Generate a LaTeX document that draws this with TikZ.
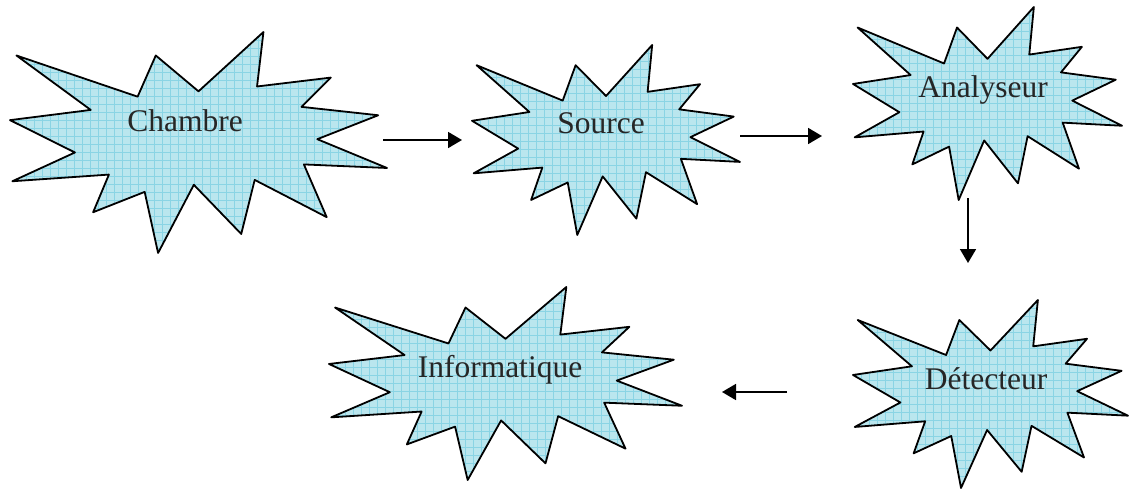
\documentclass[tikz,border=0pt]{standalone}
\usepackage{fontspec}
\setmainfont{Liberation Serif}
\usetikzlibrary{arrows.meta}

\definecolor{burstbg}{RGB}{186,230,238}
\definecolor{burstgrid}{RGB}{138,212,228}
\definecolor{labelink}{RGB}{38,38,38}

% Outline of an "explosion" burst in a 100 x 100 box (y grows downwards)
\newcommand\burstoutline{(50.00,26.85) -- (67.23,0) -- (65.53,24.65) -- (85.09,20.63)
  -- (77.32,33.87) -- (97.67,37.67) -- (81.51,48.50) -- (100,61.53) -- (77.95,59.92)
  -- (84.00,83.77) -- (64.91,66.93) -- (61.33,91.38) -- (48.76,69.14) -- (39.28,100)
  -- (35.72,72.35) -- (22.05,81.56) -- (26.24,64.52) -- (0.63,67.53) -- (17.23,54.51)
  -- (0,39.88) -- (21.42,35.26) -- (1.71,10.63) -- (33.85,29.26) -- (38.67,10.63) -- cycle}

\tikzset{
  shapebox/.style={inner sep=0pt, outer sep=0pt, draw=none},
  burstline/.style={draw=black, line width=1.8pt, line join=round},
  gridline/.style={draw=burstgrid, line width=0.6pt},
  burstlabel/.style={text=labelink, font=\fontsize{31.5}{36}\selectfont, inner sep=0pt},
  arr/.style={draw=black, line width=1.8pt, -{Triangle[length=14pt,width=16pt]}},
}

% #1 name, #2 left, #3 top, #4 width, #5 height
\newcommand\burst[5]{%
  \node[shapebox, minimum width=#4pt, minimum height=#5pt, anchor=north west] (#1) at (#2,#3) {};
  \pgfmathsetmacro\burstsx{#4/100}%
  \pgfmathsetmacro\burstsy{#5/100}%
  \begin{scope}[shift={(#2,#3)}, x=\burstsx pt, y=-\burstsy pt]
    \begin{scope}
      \clip \burstoutline;
      \fill[burstbg] (0,0) rectangle (100,100);
      \begin{scope}[x=1pt, y=-1pt]
        \foreach \g in {0,8,...,#4} \draw[gridline] (\g,0) -- (\g,#5);
        \foreach \g in {0,8,...,#5} \draw[gridline] (0,\g) -- (#4,\g);
      \end{scope}
    \end{scope}
    \path[burstline] \burstoutline;
  \end{scope}
}

\begin{document}
\begin{tikzpicture}[x=1pt, y=-1pt]
  \useasboundingbox[fill=white] (0,0) rectangle (1129,490);

  \burst{chambre}{10}{32}{377}{221}
  \burst{source}{472}{45}{268}{190}
  \burst{analyseur}{853}{7}{269}{193}
  \burst{detecteur}{853}{300}{275}{188}
  \burst{informatique}{329}{287}{353}{193}

  \node[burstlabel, anchor=base] (chambre-label) at (185,131) {Chambre};
  \node[burstlabel, anchor=base] (source-label) at (601,133) {Source};
  \node[burstlabel, anchor=base] (analyseur-label) at (983,97) {Analyseur};
  \node[burstlabel, anchor=base] (detecteur-label) at (986,389) {Détecteur};
  \node[burstlabel, anchor=base] (informatique-label) at (500,377) {Informatique};

  % connectors between the stages
  \draw[arr, shorten <=-4pt, shorten >=10pt] (source.west -| chambre.east) -- (source.west);
  \draw[arr, shorten >=31pt] ([yshift=4pt]source.east) -- ([yshift=4pt]source.east -| analyseur.west);
  \draw[arr] ([xshift=-19.5pt,yshift=2pt]analyseur.south) -- ([xshift=-22.5pt,yshift=37pt]detecteur.north);
  \draw[arr, shorten <=66pt, shorten >=40pt] ([yshift=2pt]detecteur.west) -- ([yshift=2pt]detecteur.west -| informatique.east);
\end{tikzpicture}
\end{document}
